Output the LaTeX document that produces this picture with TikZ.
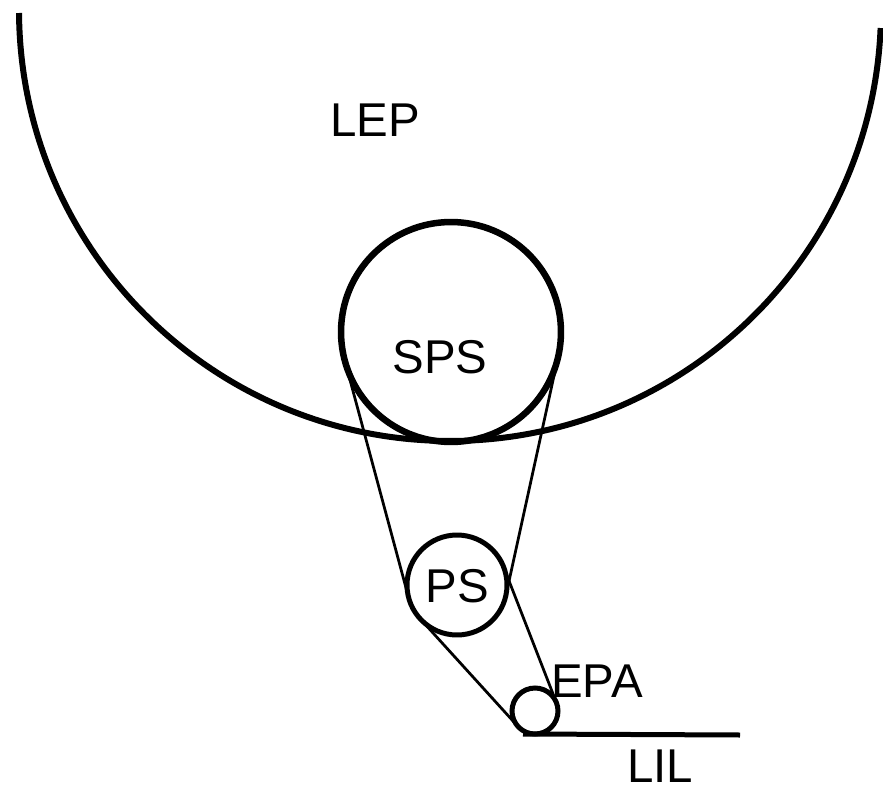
\documentclass[tikz,border=0pt]{standalone}
\usepackage{fontspec}
\setmainfont{Liberation Sans}
\usetikzlibrary{calc}
\begin{document}
\begin{tikzpicture}[x=0.02cm, y=0.02cm,
  bigline/.style={line width=0.12cm},
  roller/.style={circle, draw, inner sep=0pt, outer sep=0pt},
  belt/.style={line width=0.055cm},
  lbl/.style={inner sep=0pt, font=\fontsize{27}{32}\selectfont}]
\useasboundingbox (0,0) rectangle (883,-791);

% large drum (only its lower part is visible)
\coordinate (lepc) at (450,-10);
\draw[bigline] ($(lepc)+(180.4:431)$) arc[start angle=180.4, end angle=357.6, radius=431];

% rollers
\node[roller, line width=0.13cm, minimum size=4.4cm] (sps) at (451,-332) {};
\node[roller, line width=0.1cm, minimum size=2cm] (ps) at (457,-585) {};
\node[roller, line width=0.1cm, minimum size=0.92cm] (epa) at (535,-711) {};

% belt: outer tangents between the rollers
\draw[belt] (sps.195.1) -- (ps.195.1);
\draw[belt] (sps.347.6) -- (ps.347.6);
\draw[belt] (ps.222.2) -- (epa.222.2);
\draw[belt] (ps.21.2) -- (epa.21.2);

% exit line
\coordinate (lilstart) at ($(epa.south)+(-12,0)$);
\coordinate (lilend) at (740,-735);
\draw[line width=0.1cm] (lilstart) -- (lilend);

% labels
\node[lbl] (leplabel) at (375,-120) {LEP};
\node[lbl] (spslabel) at (440,-357) {SPS};
\node[lbl] (pslabel) at (457,-586) {PS};
\node[lbl] (epalabel) at (597,-681) {EPA};
\node[lbl] (lillabel) at (660,-766) {LIL};
\end{tikzpicture}
\end{document}
